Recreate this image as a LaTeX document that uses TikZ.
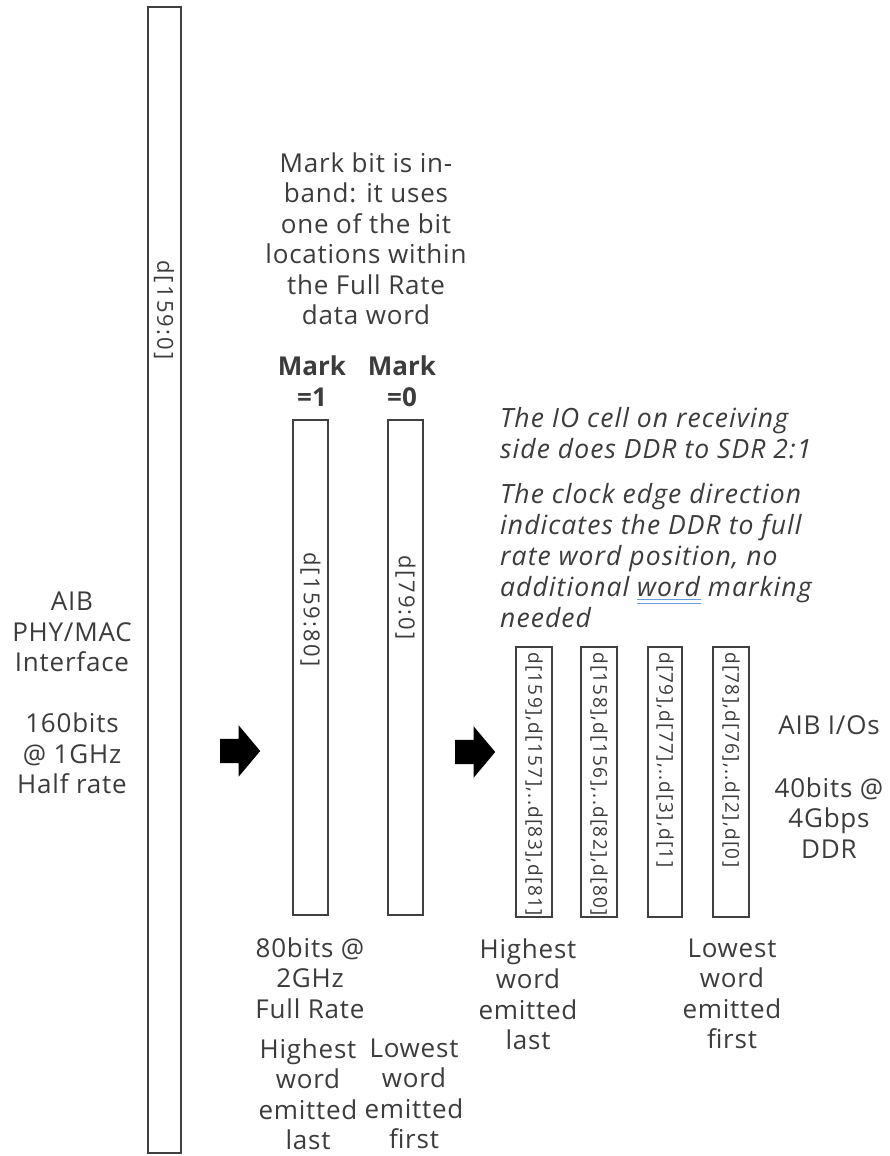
\documentclass[tikz,border=0pt]{standalone}
\usepackage{fontspec}
\setmainfont{Open Sans}
\usetikzlibrary{shapes.arrows}
\definecolor{txt}{HTML}{3C3C3C}
\definecolor{edge}{HTML}{404040}
\definecolor{spell}{HTML}{6E9BE0}
\tikzset{
  lbl/.style={text=txt, align=center, inner sep=0pt, font=\fontsize{26}{30.5}\selectfont\addfontfeatures{LetterSpace=3}},
  note/.style={text=txt, align=left, inner sep=0pt, anchor=west, font=\fontsize{26.5}{30.8}\selectfont\itshape\addfontfeatures{LetterSpace=4}},
  marklbl/.style={text=txt, align=center, inner sep=0pt, font=\fontsize{26}{30.5}\selectfont\bfseries},
  bar/.style={draw=edge, line width=1.6pt, fill=white},
  vtext/.style={text=txt, rotate=-90, anchor=west, inner sep=0pt, font=\fontsize{22}{24}\selectfont\addfontfeatures{LetterSpace=10}},
  vsmall/.style={text=txt, rotate=-90, anchor=west, inner sep=0pt, font=\fontsize{19}{22}\selectfont\addfontfeatures{LetterSpace=7}},
  fat/.style={single arrow, fill=black, draw=none, inner sep=12pt, minimum width=51pt, minimum height=40pt, single arrow head extend=13.5pt, single arrow tip angle=100, anchor=tail}
}
\begin{document}
\begin{tikzpicture}[x=1pt,y=-1pt]
\path[use as bounding box, fill=white] (0,0) rectangle (889,1156);

% tall bar
\draw[bar] (148,7) rectangle (181,1153);
\node[vtext] (t0) at (164,260) {d[159:0]};

% left labels
\node[lbl] (aib) at (72,693) {AIB\\PHY/MAC\\Interface\\[30.5pt]160bits\\@ 1GHz\\Half rate};

% arrows
\node[fat] (ar1) at (220,751) {};
\node[fat] (ar2) at (455,752) {};

% mark bit note
\node[lbl] (mbnote) at (366,238.5) {Mark bit is in-\\band: it uses\\one of the bit\\locations within\\the Full Rate\\data word};

\node[marklbl] (m1) at (312,381) {Mark\\=1};
\node[marklbl] (m0) at (402,381) {Mark\\=0};

% full rate bars
\draw[bar] (293,420) rectangle (328,915);
\node[vtext] (t1) at (310.5,552) {d[159:80]};
\draw[bar] (388,420) rectangle (423,915);
\node[vtext] (t2) at (405.5,555) {d[79:0]};

\node[lbl] (fr) at (310,978) {80bits @\\2GHz\\Full Rate};
\node[lbl] (hi1) at (308,1094) {Highest\\word\\emitted\\last};
\node[lbl] (lo1) at (414,1094) {Lowest\\word\\emitted\\first};

% italic notes
\node[note] (n1) at (500,433.5) {The IO cell on receiving\\side does DDR to SDR 2:1};
\node[note] (n2) at (500,555.5) {The clock edge direction\\indicates the DDR to full\\rate word position, no\\additional word marking\\needed};
\draw[spell, line width=0.9pt] (637,599) -- (701,599) (637,603) -- (701,603);

% DDR bars
\draw[bar] (516,647) rectangle (552,917);
\node[vsmall] (d1) at (534,652) {d[159],d[157],..d[83],d[81]};
\draw[bar] (581,647) rectangle (617,917);
\node[vsmall] (d2) at (599,652) {d[158],d[156],..d[82],d[80]};
\draw[bar] (648,647) rectangle (682,917);
\node[vsmall] (d3) at (665,652) {d[79],d[77],..d[3],d[1]};
\draw[bar] (713,647) rectangle (749,917);
\node[vsmall] (d4) at (731,652) {d[78],d[76],..d[2],d[0]};

\node[lbl] (aibio) at (829,725) {AIB I/Os};
\node[lbl] (rate) at (829,818) {40bits @\\4Gbps\\DDR};

\node[lbl] (hi2) at (528,994) {Highest\\word\\emitted\\last};
\node[lbl] (lo2) at (732,994) {Lowest\\word\\emitted\\first};
\end{tikzpicture}
\end{document}
